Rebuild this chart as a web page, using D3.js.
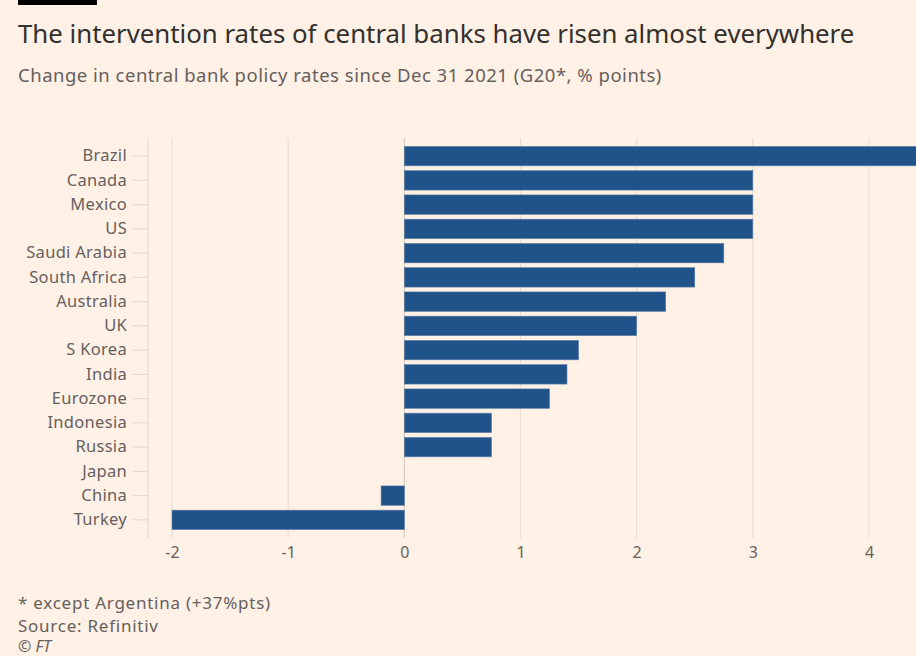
<!DOCTYPE html>
<html>
<head>
<meta charset="utf-8">
<script src="https://cdn.jsdelivr.net/npm/d3@7"></script>
<style>
  body { margin: 0; background: #fff1e6; }
  svg { display: block; font-family: "Noto Sans", Lato, sans-serif; }
</style>
</head>
<body>
<div id="chart"></div>
<script>
// data
var countries = ["Brazil", "Canada", "Mexico", "US", "Saudi Arabia", "South Africa", "Australia", "UK",
                 "S Korea", "India", "Eurozone", "Indonesia", "Russia", "Japan", "China", "Turkey"];
var changes = [4.5, 3, 3, 3, 2.75, 2.5, 2.25, 2, 1.5, 1.4, 1.25, 0.75, 0.75, 0, -0.2, -2];
var xTicks = [-2, -1, 0, 1, 2, 3, 4];

function draw() {
    var width = 916, height = 656;
    var margin = {top: 144, left: 148, bottom: 120};

    var svg = d3.select("#chart").append("svg")
        .attr("width", width)
        .attr("height", height);

    svg.append("rect").attr("width", width).attr("height", height).attr("fill", "#fff1e6");

    // little black bar at the top
    svg.append("rect").attr("x", 18).attr("y", 0).attr("width", 79).attr("height", 5).attr("fill", "#000");

    svg.append("text").attr("x", 18).attr("y", 43)
        .attr("font-size", 25.8).attr("fill", "#33302e")
        .text("The intervention rates of central banks have risen almost everywhere");
    svg.append("text").attr("x", 18).attr("y", 82)
        .attr("font-size", 18.5).attr("letter-spacing", 0.5).attr("fill", "#66605c")
        .text("Change in central bank policy rates since Dec 31 2021 (G20*, % points)");

    var x = d3.scaleLinear().domain([-2, 4]).range([172, 869]);
    var y = d3.scaleBand().domain(countries).range([margin.top, 532]).paddingInner(0.2).paddingOuter(0.1);

    // gridlines
    svg.append("g")
        .selectAll("line")
        .data(xTicks)
        .enter().append("line")
        .attr("x1", d => x(d)).attr("x2", d => x(d))
        .attr("y1", 138).attr("y2", 538)
        .attr("stroke", d => d === 0 ? "#d8cbbf" : "#ebdfd4")
        .attr("stroke-width", 1.2);

    // bars
    svg.append("g")
        .selectAll("rect")
        .data(countries)
        .enter().append("rect")
        .attr("x", (d, i) => x(Math.min(0, changes[i])))
        .attr("width", (d, i) => Math.abs(x(changes[i]) - x(0)))
        .attr("y", d => y(d))
        .attr("height", y.bandwidth())
        .attr("fill", "#1f538a")
        .attr("stroke", "#5c7ea3")
        .attr("stroke-width", 0.6);

    // y axis
    var yAxis = svg.append("g")
        .attr("transform", `translate(${margin.left},0)`)
        .call(d3.axisLeft(y).tickSize(15).tickPadding(6).tickSizeOuter(0));
    yAxis.select(".domain").attr("stroke", "#e3d7cc").attr("d", "M0,138V538");
    yAxis.selectAll(".tick line").attr("stroke", "#e3d7cc");
    yAxis.selectAll(".tick text").attr("font-size", 16.5).attr("letter-spacing", 0.3).attr("fill", "#66605c")
        .attr("font-family", "\"Noto Sans\", Lato, sans-serif");

    // x axis
    var xAxis = svg.append("g")
        .attr("transform", "translate(0,538)")
        .call(d3.axisBottom(x).tickValues(xTicks).tickSize(0).tickPadding(9).tickFormat(d3.format("d")));
    xAxis.select(".domain").remove();
    xAxis.selectAll(".tick text").attr("font-size", 16).attr("fill", "#66605c")
        .attr("font-family", "\"Noto Sans\", Lato, sans-serif")
        .text(d => String(d).replace("\u2212", "-"));

    var notes = ["* except Argentina (+37%pts)", "Source: Refinitiv"];
    svg.append("g").selectAll("text")
        .data(notes)
        .enter().append("text")
        .attr("x", 18).attr("y", (d, i) => 609 + i * 23)
        .attr("font-size", 17).attr("letter-spacing", 0.75).attr("fill", "#66605c")
        .text(d => d);
    svg.append("text").attr("x", 18).attr("y", 652)
        .attr("font-size", 16).attr("font-style", "italic").attr("fill", "#66605c")
        .text("\u00a9 FT");
}

window.onload = draw;
</script>
</body>
</html>
